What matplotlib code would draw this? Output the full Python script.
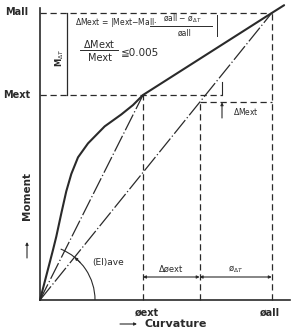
import numpy as np
import matplotlib.pyplot as plt
from matplotlib.patches import Arc

# moment-curvature data (normalised: phi_ext = 1, M_ext = 1)
phi_ext, phi_mid, phi_all = 1.0, 1.55, 2.25
M_ext, M_all = 1.0, 1.40
curve_phi = [0.0, 0.126, 0.158, 0.207, 0.255, 0.304, 0.369, 0.466, 0.628,
             0.789, 0.903, 1.0, 2.25, 2.37]
curve_M = [0.0, 0.244, 0.309, 0.423, 0.530, 0.615, 0.696, 0.764, 0.847,
           0.905, 0.951, 1.0, 1.40, 1.438]

INK = "#2a2a2a"
SX, SY = 103.0, 205.0  # pixels per unit


def px(x, y):
    # pixel position in the sheet -> data coords (layout of labels only)
    return (x - 40) / SX, (300 - y) / SY


fig = plt.figure(figsize=(2.91, 3.31), dpi=100)
ax = fig.add_axes([0, 0, 1, 1])
ax.set_xlim(-40 / SX, 251 / SX)
ax.set_ylim(-31 / SY, 300 / SY)
ax.axis("off")

dash = (0, (5, 3))
ray = (0, (14, 2, 1, 2))
M_sec = M_all * phi_mid / phi_all  # secant value at phi_all - phi_dT

# axes
ax.plot([0, px(290, 0)[0]], [0, 0], color=INK, lw=1.2)
ax.plot([0, 0], [0, px(0, 8)[1]], color=INK, lw=1.2)

# curve
ax.plot(curve_phi, curve_M, color=INK, lw=1.5, solid_capstyle="round",
        solid_joinstyle="round")

# rays from origin
ax.plot([0, phi_ext], [0, M_ext], color=INK, lw=0.9, linestyle=ray)
ax.plot([0, phi_all], [0, M_all], color=INK, lw=0.9, linestyle=ray)

# guide lines
ax.plot([0, phi_all], [M_all, M_all], color=INK, lw=0.9, linestyle=dash)
ax.plot([phi_all, phi_all], [0, M_all], color=INK, lw=0.9, linestyle=dash)
x_tick = px(222, 0)[0]
ax.plot([0, x_tick], [M_ext, M_ext], color=INK, lw=0.9, linestyle=dash)
ax.plot([phi_ext, phi_ext], [0, M_ext], color=INK, lw=0.9, linestyle=dash)
ax.plot([phi_mid, phi_mid], [0, M_sec], color=INK, lw=0.9, linestyle=dash)
ax.plot([phi_mid, phi_all], [M_sec, M_sec], color=INK, lw=0.9, linestyle=dash)

# delta M_ext marker
ax.plot([x_tick, x_tick], [M_ext, px(0, 82)[1]], color=INK, lw=0.8)
ax.annotate("", xy=(x_tick, M_sec), xytext=(x_tick, px(0, 118)[1]),
            arrowprops=dict(arrowstyle="-|>", color=INK, lw=0.8,
                            mutation_scale=4, shrinkA=0, shrinkB=0))
ax.text(*px(246, 112), r"$\Delta$Mext", fontsize=5.5, color=INK,
        ha="center", va="center")

# M_dT bracket
x_box = px(67, 0)[0]
ax.plot([x_box, x_box], [M_ext, M_all], color=INK, lw=0.9)
ax.text(*px(60, 58), r"M$_{\Delta T}$", rotation=90, fontsize=6,
        color=INK, ha="center", va="center", fontweight="bold")

# formulas
ax.text(*px(75, 23), r"$\Delta$Mext = |Mext$-$Mall$\cdot$", fontsize=5.5,
        color=INK, ha="left", va="center")
ax.text(*px(182, 19), "øall $-$ ø$_{\\Delta T}$", fontsize=5.5, color=INK,
        ha="center", va="center")
ax.plot([px(150, 0)[0], px(212, 0)[0]], [px(0, 26)[1]] * 2, color=INK, lw=0.7)
ax.text(*px(185, 33), "øall", fontsize=5.5, color=INK, ha="center",
        va="center")
ax.plot([px(217, 0)[0]] * 2, [px(0, 15)[1], px(0, 36)[1]], color=INK, lw=0.7)

ax.text(*px(99, 44), r"$\Delta$Mext", fontsize=7, color=INK,
        ha="center", va="center")
ax.plot([px(80, 0)[0], px(118, 0)[0]], [px(0, 50)[1]] * 2, color=INK, lw=0.7)
ax.text(*px(100, 58), "Mext", fontsize=7, color=INK, ha="center", va="center")
ax.text(*px(121, 52), "≦0.005", fontsize=7.5, color=INK, ha="left",
        va="center")

# dimension line
y_dim = px(0, 277)[1]
for a, b in [(phi_ext, phi_mid), (phi_mid, phi_all)]:
    ax.annotate("", xy=(a, y_dim), xytext=(b, y_dim),
                arrowprops=dict(arrowstyle="<|-|>", color=INK, lw=0.8,
                                mutation_scale=4, shrinkA=0, shrinkB=0))
ax.text((phi_ext + phi_mid) / 2, px(0, 269)[1], "Δøext", fontsize=6,
        color=INK, ha="center", va="center")
ax.text((phi_mid + phi_all) / 2, px(0, 269)[1], "ø$_{\\Delta T}$", fontsize=6,
        color=INK, ha="center", va="center")

# (EI)ave angle
r = 55
theta = np.degrees(np.arctan2(M_all * SY, phi_all * SX))
ax.add_patch(Arc((0, 0), 2 * r / SX, 2 * r / SY, theta1=0, theta2=theta,
                 color=INK, lw=0.8))
tip = (r * np.cos(np.radians(theta)) / SX, r * np.sin(np.radians(theta)) / SY)
tail = (r * np.cos(np.radians(theta - 8)) / SX,
        r * np.sin(np.radians(theta - 8)) / SY)
ax.annotate("", xy=tip, xytext=tail,
            arrowprops=dict(arrowstyle="-|>", color=INK, lw=0.8,
                            mutation_scale=4, shrinkA=0, shrinkB=0))
ax.text(*px(108, 263), "(EI)ave", fontsize=6.5, color=INK, ha="center",
        va="center")

# axis labels
ax.text(*px(17, 12), "Mall", fontsize=7, color=INK, ha="center", va="center",
        fontweight="bold")
ax.text(*px(17, 95), "Mext", fontsize=7, color=INK, ha="center", va="center",
        fontweight="bold")
ax.text(*px(147, 313), "øext", fontsize=7, color=INK, ha="center",
        va="center", fontweight="bold")
ax.text(*px(270, 313), "øall", fontsize=7, color=INK, ha="center",
        va="center", fontweight="bold")
ax.text(*px(176, 324), "Curvature", fontsize=8, color=INK, ha="center",
        va="center", fontweight="bold")
ax.annotate("", xy=px(137, 324), xytext=px(120, 324),
            arrowprops=dict(arrowstyle="-|>", color=INK, lw=0.8,
                            mutation_scale=4, shrinkA=0, shrinkB=0))
ax.text(*px(27, 196), "Moment", rotation=90, fontsize=7.5, color=INK,
        ha="center", va="center", fontweight="bold")
ax.annotate("", xy=px(27, 242), xytext=px(27, 258),
            arrowprops=dict(arrowstyle="-|>", color=INK, lw=0.8,
                            mutation_scale=4, shrinkA=0, shrinkB=0))

fig.savefig("out.png", dpi=100, facecolor="white")
